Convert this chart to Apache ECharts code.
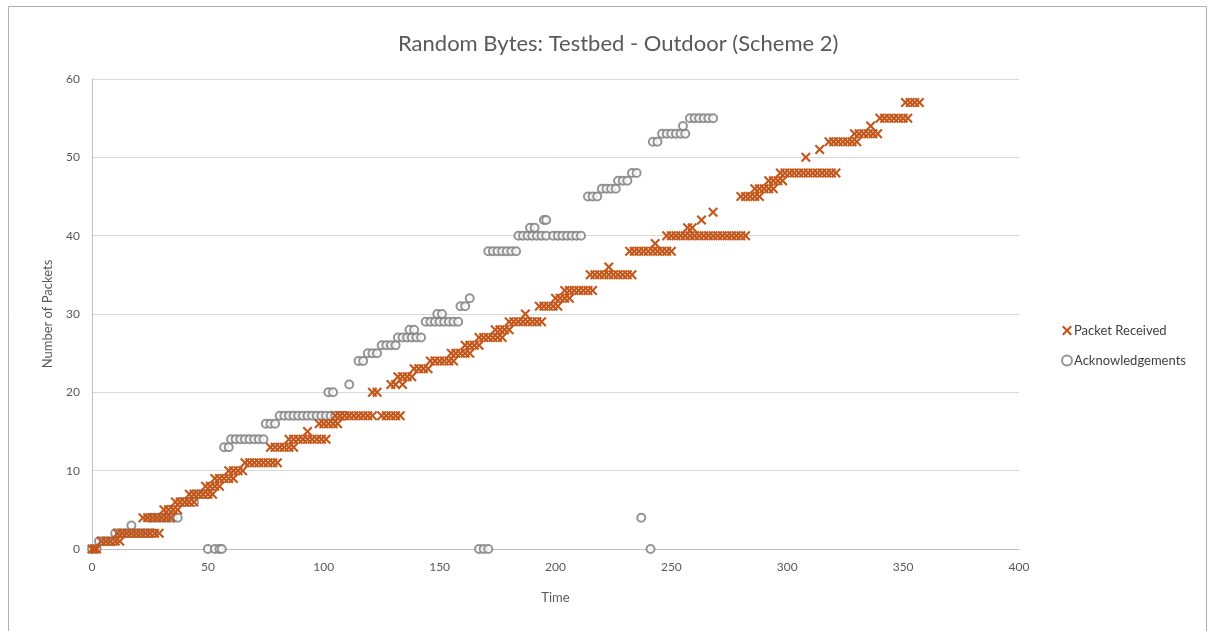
<!DOCTYPE html>
<html>
<head>
<meta charset="utf-8">
<title>Random Bytes: Testbed - Outdoor (Scheme 2)</title>
<script src="https://cdn.jsdelivr.net/npm/echarts@6/dist/echarts.min.js"></script>
<style>
  html, body { margin: 0; padding: 0; background: #fff; }
  #chart { width: 1213px; height: 631px; }
</style>
</head>
<body>
<div id="chart"></div>
<script>
// Axis settings and tick values
const xTicks = [0, 50, 100, 150, 200, 250, 300, 350, 400];
const yTicks = [0, 10, 20, 30, 40, 50, 60];

// Series: [time, number of packets]
const packetReceived = [
  [0,0],[1,0],[2,0],
  [4,1],[6,1],[8,1],[10,1],[12,1],
  [11,2],[13,2],[15,2],[17,2],[19,2],[21,2],[23,2],[25,2],[27,2],[29,2],
  [22,4],[24,4],[26,4],[28,4],[30,4],[32,4],[34,4],
  [31,5],[33,5],[35,5],[37,5],
  [36,6],[38,6],[40,6],[42,6],[44,6],
  [42,7],[44,7],[46,7],[48,7],[50,7],[52,7],
  [49,8],[51,8],[53,8],[55,8],
  [53,9],[55,9],[57,9],[59,9],[61,9],
  [59,10],[61,10],[63,10],[65,10],
  [66,11],[68,11],[70,11],[72,11],[74,11],[76,11],[78,11],[80,11],
  [77,13],[79,13],[81,13],[83,13],[85,13],[87,13],
  [85,14],[87,14],[89,14],[91,14],[93,14],[95,14],[97,14],[99,14],[101,14],
  [93,15],
  [98,16],[100,16],[102,16],[104,16],[106,16],
  [105,17],[107,17],[109,17],[111,17],[113,17],[115,17],[117,17],[119,17],[121,17],
  [125,17],[127,17],[129,17],[131,17],[133,17],
  [121,20],[123,20],
  [129,21],[131,21],[134,21],
  [132,22],[134,22],[136,22],[138,22],
  [139,23],[141,23],[143,23],[145,23],
  [146,24],[148,24],[150,24],[152,24],[154,24],[156,24],
  [155,25],[157,25],[159,25],[161,25],[163,25],
  [161,26],[163,26],[165,26],[167,26],
  [167,27],[169,27],[171,27],[173,27],[175,27],[177,27],
  [174,28],[176,28],[178,28],[180,28],
  [180,29],[182,29],[184,29],[186,29],[188,29],[190,29],[192,29],[194,29],
  [187,30],
  [193,31],[195,31],[197,31],[199,31],[201,31],
  [200,32],[202,32],[204,32],[206,32],
  [204,33],[206,33],[208,33],[210,33],[212,33],[214,33],[216,33],
  [215,35],[217,35],[219,35],[221,35],[223,35],[225,35],[227,35],[229,35],[231,35],[233,35],
  [223,36],
  [232,38],[234,38],[236,38],[238,38],[240,38],[242,38],[244,38],[246,38],[248,38],[250,38],
  [243,39],
  [248,40],[250,40],[252,40],[254,40],[256,40],[258,40],[260,40],[262,40],[264,40],[266,40],
  [268,40],[270,40],[272,40],[274,40],[276,40],[278,40],[280,40],[282,40],
  [257,41],[259,41],
  [263,42],
  [268,43],
  [280,45],[282,45],[284,45],[286,45],[288,45],
  [286,46],[288,46],[290,46],[292,46],[294,46],
  [292,47],[294,47],[296,47],[298,47],
  [297,48],[299,48],[301,48],[303,48],[305,48],[307,48],[309,48],[311,48],[313,48],
  [315,48],[317,48],[319,48],[321,48],
  [308,50],
  [314,51],
  [318,52],[320,52],[322,52],[324,52],[326,52],[328,52],[330,52],
  [329,53],[331,53],[333,53],[335,53],[337,53],[339,53],
  [336,54],
  [340,55],[342,55],[344,55],[346,55],[348,55],[350,55],[352,55],
  [351,57],[353,57],[355,57],[357,57]
];

const acknowledgements = [
  [0,0],[2,0],
  [3,1],[5,1],[7,1],[9,1],
  [10,2],[12,2],[14,2],[16,2],[18,2],[20,2],[22,2],[24,2],[26,2],
  [17,3],
  [25,4],[27,4],[29,4],[31,4],[33,4],[35,4],[37,4],
  [33,5],
  [38,6],[40,6],[42,6],[44,6],
  [44,7],[46,7],[48,7],[50,7],
  [50,0],[53,0],[55,0],[56,0],
  [57,13],[59,13],
  [60,14],[62,14],[64,14],[66,14],[68,14],[70,14],[72,14],[74,14],
  [75,16],[77,16],[79,16],
  [81,17],[83,17],[85,17],[87,17],[89,17],[91,17],[93,17],[95,17],[97,17],[99,17],
  [101,17],[103,17],[105,17],[107,17],[109,17],
  [102,20],[104,20],
  [111,21],
  [115,24],[117,24],
  [119,25],[121,25],[123,25],
  [125,26],[127,26],[129,26],[131,26],
  [132,27],[134,27],[136,27],[138,27],[140,27],[142,27],
  [137,28],[139,28],
  [144,29],[146,29],[148,29],[150,29],[152,29],[154,29],[156,29],[158,29],
  [149,30],[151,30],
  [159,31],[161,31],
  [163,32],
  [167,0],[169,0],[171,0],
  [171,38],[173,38],[175,38],[177,38],[179,38],[181,38],[183,38],
  [184,40],[186,40],[188,40],[190,40],[192,40],[194,40],[196,40],
  [199,40],[201,40],[203,40],[205,40],[207,40],[209,40],[211,40],
  [189,41],[191,41],
  [195,42],[196,42],
  [214,45],[216,45],[218,45],
  [220,46],[222,46],[224,46],[226,46],
  [227,47],[229,47],[231,47],
  [233,48],[235,48],
  [237,4],
  [241,0],
  [242,52],[244,52],
  [246,53],[248,53],[250,53],[252,53],[254,53],[256,53],
  [255,54],
  [258,55],[260,55],[262,55],[264,55],[266,55],[268,55]
];

const FONT = 'Lato, "Open Sans", sans-serif';
const ORANGE = '#C4561A';
const GREY = '#7a7a7a';
// Cross marker drawn as a filled "x" outline
const CROSS = 'path://M0,1.5L1.5,0L5,3.5L8.5,0L10,1.5L6.5,5L10,8.5L8.5,10L5,6.5L1.5,10L0,8.5L3.5,5Z';

const chart = echarts.init(document.getElementById('chart'), null, { renderer: 'canvas' });

chart.setOption({
  backgroundColor: '#ffffff',
  animation: false,
  title: {
    text: 'Random Bytes: Testbed - Outdoor (Scheme 2)',
    left: 393,
    top: 28,
    textStyle: { fontFamily: FONT, fontSize: 22, fontWeight: 'normal', color: '#595959' }
  },
  graphic: [{
    type: 'rect',
    shape: { x: 8.5, y: 6.5, width: 1198, height: 640 },
    style: { fill: 'none', stroke: '#b0b0b0', lineWidth: 1 },
    silent: true
  }],
  legend: {
    orient: 'vertical',
    left: 1056,
    top: 319,
    itemGap: 17,
    itemWidth: 10,
    itemHeight: 10,
    textStyle: { fontFamily: FONT, fontSize: 13, color: '#404040', padding: [0, 0, 0, -3] },
    data: ['Packet Received', 'Acknowledgements']
  },
  grid: { left: 92, right: 194, top: 79, bottom: 82, containLabel: false },
  xAxis: {
    type: 'value',
    min: xTicks[0],
    max: xTicks[xTicks.length - 1],
    interval: 50,
    name: 'Time',
    nameLocation: 'middle',
    nameGap: 42,
    nameTextStyle: { fontFamily: FONT, fontSize: 13, color: '#595959' },
    axisLine: { show: true, lineStyle: { color: '#bfbfbf', width: 1 } },
    axisTick: { show: false },
    splitLine: { show: false },
    axisLabel: { fontFamily: FONT, fontSize: 12, color: '#595959', margin: 12 }
  },
  yAxis: {
    type: 'value',
    min: yTicks[0],
    max: yTicks[yTicks.length - 1],
    interval: 10,
    name: 'Number of Packets',
    nameLocation: 'middle',
    nameGap: 38,
    nameRotate: 90,
    nameTextStyle: { fontFamily: FONT, fontSize: 13, color: '#595959' },
    axisLine: { show: true, lineStyle: { color: '#bfbfbf', width: 1 } },
    axisTick: { show: false },
    splitLine: { show: true, lineStyle: { color: '#d9d9d9', width: 1 } },
    axisLabel: { fontFamily: FONT, fontSize: 12, color: '#595959', margin: 12 }
  },
  series: [
    {
      name: 'Packet Received',
      type: 'scatter',
      data: packetReceived,
      symbol: CROSS,
      symbolSize: 10,
      z: 3,
      itemStyle: { color: ORANGE, opacity: 1 }
    },
    {
      name: 'Acknowledgements',
      type: 'scatter',
      data: acknowledgements,
      symbol: 'emptyCircle',
      symbolSize: 8,
      z: 2,
      itemStyle: { color: GREY, borderColor: GREY, borderWidth: 1.5 }
    }
  ]
});
</script>
</body>
</html>
